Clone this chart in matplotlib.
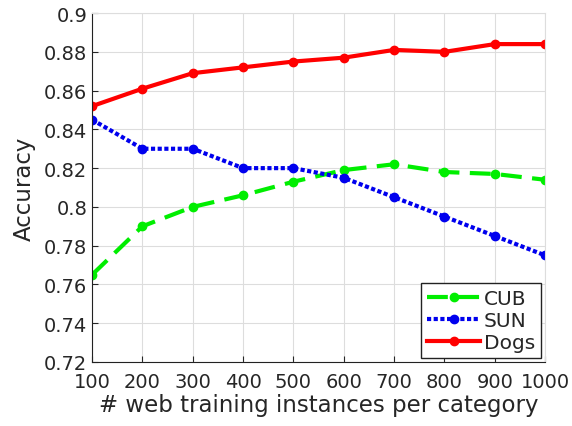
import matplotlib
matplotlib.use("Agg")
import matplotlib.pyplot as plt

instances = [100, 200, 300, 400, 500, 600, 700, 800, 900, 1000]
cub = [0.765, 0.790, 0.800, 0.806, 0.813, 0.819, 0.822, 0.818, 0.817, 0.814]
sun = [0.845, 0.830, 0.830, 0.820, 0.820, 0.815, 0.805, 0.795, 0.785, 0.775]
dogs = [0.852, 0.861, 0.869, 0.872, 0.875, 0.877, 0.881, 0.880, 0.884, 0.884]
yticks = [0.72, 0.74, 0.76, 0.78, 0.8, 0.82, 0.84, 0.86, 0.88, 0.9]

plt.rcParams["text.color"] = "#262626"
plt.rcParams["axes.labelcolor"] = "#262626"
plt.rcParams["xtick.color"] = "#262626"
plt.rcParams["ytick.color"] = "#262626"

fig = plt.figure(figsize=(5.72, 4.27), dpi=100)
ax = fig.add_axes([0.161, 0.150, 0.792, 0.817])

ax.plot(instances, cub, color="#00ee00", linestyle=(0, (5, 2.5)), linewidth=3,
        marker="o", markersize=6, label="CUB")
ax.plot(instances, sun, color="#0000ee", linestyle=(0, (1, 0.6)), linewidth=3,
        marker="o", markersize=6, label="SUN")
ax.plot(instances, dogs, color="#ff0000", linestyle="-", linewidth=3,
        marker="o", markersize=6, label="Dogs")

ax.set_xlim(100, 1000)
ax.set_ylim(0.72, 0.9)
ax.set_xticks(instances)
ax.set_yticks(yticks)
ax.set_yticklabels([f"{v:g}" for v in yticks])
ax.tick_params(direction="in", labelsize=14, length=4, top=False, right=False)
ax.tick_params(axis="x", pad=7)
ax.grid(True, color="#dddddd", linewidth=0.8)
ax.set_axisbelow(True)
for side in ["top", "right"]:
    ax.spines[side].set_color("#dddddd")
for side in ["left", "bottom"]:
    ax.spines[side].set_color("#222222")

ax.set_xlabel("# web training instances per category", fontsize=16.5, labelpad=2)
ax.set_ylabel("Accuracy", fontsize=16.5, labelpad=6)

leg = ax.legend(loc="lower right", fontsize=14.5, fancybox=False, framealpha=1,
                edgecolor="#222222", handlelength=2.6, borderpad=0.3,
                labelspacing=0.15, handletextpad=0.2, borderaxespad=0.2)
leg.get_frame().set_linewidth(1.0)

fig.savefig("out.png", dpi=100)
